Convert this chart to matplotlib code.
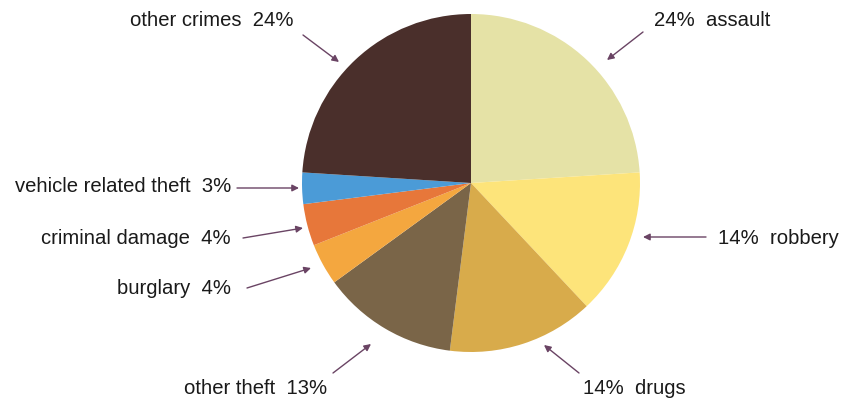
import matplotlib
matplotlib.use("Agg")
import matplotlib.pyplot as plt

categories = ["assault", "robbery", "drugs", "other theft", "burglary",
              "criminal damage", "vehicle related theft", "other crimes"]
values = [24, 14, 14, 13, 4, 4, 3, 24]
colors = ["#E5E2A6", "#FDE47A", "#D8AB4B", "#7A6548", "#F4A73F",
          "#E7773A", "#4B9BD7", "#4A2F2B"]
labels = ["24%  assault", "14%  robbery", "14%  drugs", "other theft  13%",
          "burglary  4%", "criminal damage  4%", "vehicle related theft  3%",
          "other crimes  24%"]

W, H = 844, 404
fig = plt.figure(figsize=(W / 100, H / 100), dpi=100)
ax = fig.add_axes([0, 0, 1, 1])

cx, cy, r = 471, H - 183, 169
ax.pie(values, colors=colors, startangle=90, counterclock=False,
       center=(cx, cy), radius=r, frame=True,
       wedgeprops=dict(linewidth=0))
ax.set_xlim(0, W)
ax.set_ylim(0, H)
ax.set_aspect("equal")
ax.axis("off")

# label placement (pixel coords, y from top): text anchor, ha, arrow start, arrow end
layout = [
    ((654, 21), "left", (643, 32), (607, 60)),
    ((718, 238), "left", (706, 237), (643, 237)),
    ((583, 389), "left", (579, 373), (544, 345)),
    ((327, 389), "right", (333, 373), (371, 344)),
    ((231, 289), "right", (247, 288), (311, 268)),
    ((231, 238), "right", (243, 238), (303, 228)),
    ((231, 186), "right", (237, 188), (299, 188)),
    ((293, 21), "right", (303, 35), (339, 62)),
]

acol = "#6A4464"
for lab, (tp, ha, a0, a1) in zip(labels, layout):
    ax.text(tp[0], H - tp[1], lab, ha=ha, va="center", fontsize=14.6,
            family="Liberation Sans", color="#1a1a1a")
    ax.annotate("", xy=(a1[0], H - a1[1]), xytext=(a0[0], H - a0[1]),
                arrowprops=dict(arrowstyle="-|>", color=acol, lw=1.0,
                                mutation_scale=10, shrinkA=0, shrinkB=0))

fig.savefig("out.png", dpi=100)
